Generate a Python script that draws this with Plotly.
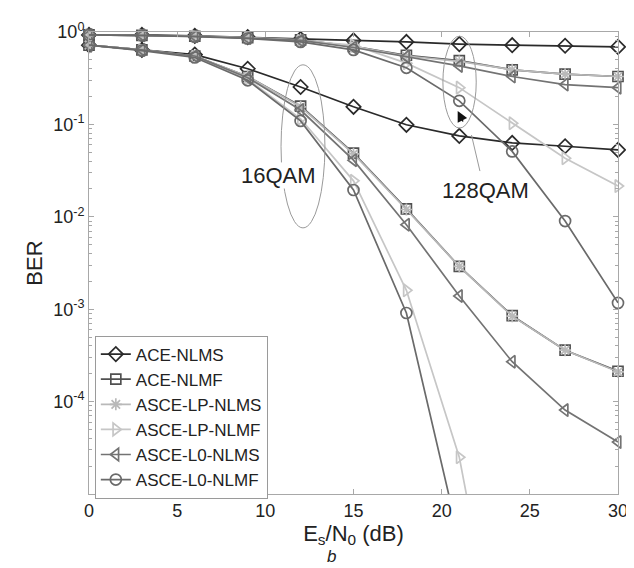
import plotly.graph_objects as go

# ---------------- data ----------------
snr_db = [0, 3, 6, 9, 12, 15, 18, 21, 24, 27, 30]
x_ticks = [0, 5, 10, 15, 20, 25, 30]
y_tick_exps = [0, -1, -2, -3, -4]
y_tick_labels = ["10<sup>0</sup>", "10<sup>-1</sup>", "10<sup>-2</sup>", "10<sup>-3</sup>", "10<sup>-4</sup>"]

method_names = ["ACE-NLMS", "ACE-NLMF", "ASCE-LP-NLMS", "ASCE-LP-NLMF", "ASCE-L0-NLMS", "ASCE-L0-NLMF"]

# 16QAM
ace_nlms_16 = [0.72, 0.64, 0.57, 0.40, 0.254, 0.155, 0.099, 0.075, 0.063, 0.058, 0.053]
ace_nlmf_16 = [0.72, 0.64, 0.55, 0.33, 0.158, 0.049, 0.0122, 0.0029, 0.00085, 0.00036, 0.000213]
lp_nlms_16 = [0.72, 0.64, 0.55, 0.33, 0.155, 0.048, 0.0120, 0.0029, 0.00084, 0.00036, 0.00021]
lp_nlmf_16 = [0.72, 0.64, 0.54, 0.31, 0.115, 0.0245, 0.0016, 0.000025, 2.5e-8, None, None]
l0_nlms_16 = [0.72, 0.64, 0.55, 0.32, 0.143, 0.041, 0.0082, 0.00139, 0.00027, 0.000081, 0.0000365]
l0_nlmf_16 = [0.72, 0.63, 0.53, 0.30, 0.109, 0.0195, 0.00091, 3.2e-6, None, None, None]

# 128QAM
ace_nlms_128 = [0.93, 0.93, 0.91, 0.88, 0.84, 0.81, 0.78, 0.74, 0.72, 0.71, 0.69]
ace_nlmf_128 = [0.93, 0.92, 0.90, 0.87, 0.82, 0.70, 0.56, 0.49, 0.39, 0.35, 0.33]
lp_nlms_128 = [0.93, 0.92, 0.90, 0.87, 0.82, 0.70, 0.55, 0.48, 0.39, 0.35, 0.33]
lp_nlmf_128 = [0.93, 0.92, 0.90, 0.86, 0.80, 0.72, 0.46, 0.25, 0.103, 0.043, 0.0215]
l0_nlms_128 = [0.93, 0.92, 0.90, 0.86, 0.81, 0.68, 0.54, 0.43, 0.33, 0.27, 0.25]
l0_nlmf_128 = [0.93, 0.92, 0.89, 0.85, 0.78, 0.64, 0.41, 0.18, 0.051, 0.0090, 0.00117]

series_16 = [ace_nlms_16, ace_nlmf_16, lp_nlms_16, lp_nlmf_16, l0_nlms_16, l0_nlmf_16]
series_128 = [ace_nlms_128, ace_nlmf_128, lp_nlms_128, lp_nlmf_128, l0_nlms_128, l0_nlmf_128]

# ---------------- style ----------------
colors = ["#2a2a2a", "#505050", "#b9b9b9", "#c6c6c6", "#737373", "#6a6a6a"]
symbols = ["diamond-open", "square-open", "asterisk-open", "triangle-right-open",
           "triangle-left-open", "circle-open"]
msizes = [11, 10, 10, 11, 11, 11]
FONT = "Liberation Sans, Arial, sans-serif"

fig = go.Figure()
for i, name in enumerate(method_names):
    for data, show in [(series_128[i], True), (series_16[i], False)]:
        clip = any(v is None or v < 1e-5 for v in data)
        fig.add_trace(go.Scatter(
            x=snr_db, y=data, name=name, legendgroup=name, showlegend=show,
            mode="lines+markers",
            line=dict(color=colors[i], width=1.7),
            marker=dict(symbol=symbols[i], size=msizes[i], color=colors[i],
                        line=dict(color=colors[i], width=1.7)),
            cliponaxis=clip,
        ))

minor_vals = [m * 10 ** e for e in range(-5, 0) for m in range(2, 10)]

axis_common = dict(showline=True, linecolor="#a8a8a8", linewidth=1, mirror="ticks",
                   ticks="inside", tickcolor="#a8a8a8", showgrid=False, zeroline=False,
                   tickfont=dict(family=FONT, size=18, color="#222"))

fig.update_xaxes(range=[0, 30], tickmode="array", tickvals=x_ticks, ticklen=5,
                 title=dict(text="E<sub>s</sub>/N<sub>0</sub> (dB)",
                            font=dict(family=FONT, size=22, color="#222"), standoff=4),
                 **axis_common)
fig.update_yaxes(type="log", range=[-5, 0], tickmode="array",
                 tickvals=[10 ** e for e in y_tick_exps], ticktext=y_tick_labels, ticklen=5,
                 minor=dict(tickmode="array", tickvals=minor_vals, ticks="inside", ticklen=3,
                            tickcolor="#a8a8a8", showgrid=False),
                 title=dict(text="BER", font=dict(family=FONT, size=22, color="#222"), standoff=4),
                 **axis_common)

# annotations: ellipses + labels
fig.add_shape(type="circle", xref="paper", yref="paper", x0=0.363, x1=0.446, y0=0.576, y1=0.929,
              line=dict(color="#9a9a9a", width=1))
fig.add_shape(type="circle", xref="paper", yref="paper", x0=0.669, x1=0.732, y0=0.792, y1=0.991,
              line=dict(color="#9a9a9a", width=1))
fig.add_shape(type="line", xref="paper", yref="paper", x0=0.723, y0=0.777, x1=0.739, y1=0.699,
              line=dict(color="#9a9a9a", width=1))
fig.add_annotation(xref="paper", yref="paper", x=0.359, y=0.690, xanchor="center", yanchor="middle",
                   text="16QAM", showarrow=False,
                   font=dict(family=FONT, size=22, color="#222"), bgcolor="white", borderpad=0)
fig.add_annotation(xref="paper", yref="paper", x=0.749, y=0.658, xanchor="center", yanchor="middle",
                   text="128QAM", showarrow=False,
                   font=dict(family=FONT, size=22, color="#222"), bgcolor="white", borderpad=0)
# mouse-pointer-like arrow
fig.add_annotation(xref="paper", yref="paper", x=0.697, y=0.829, ax=6, ay=12, text="",
                   showarrow=True, arrowhead=2, arrowsize=1.4, arrowwidth=1.5, arrowcolor="#111")
# panel label
fig.add_annotation(xref="paper", yref="paper", x=0.459, y=-0.160, xanchor="center",
                   text="<i>b</i>", showarrow=False,
                   font=dict(family=FONT, size=17, color="#222"))

fig.update_layout(
    width=634, height=568,
    margin=dict(l=81, r=24, t=24, b=82),
    paper_bgcolor="white", plot_bgcolor="white",
    font=dict(family=FONT, color="#222"),
    legend=dict(x=0.011, y=0.343, xanchor="left", yanchor="top",
                bgcolor="white", bordercolor="#9a9a9a", borderwidth=1,
                font=dict(family=FONT, size=17, color="#222"), tracegroupgap=0,
                itemwidth=30),
)

fig.write_html("out.html")
